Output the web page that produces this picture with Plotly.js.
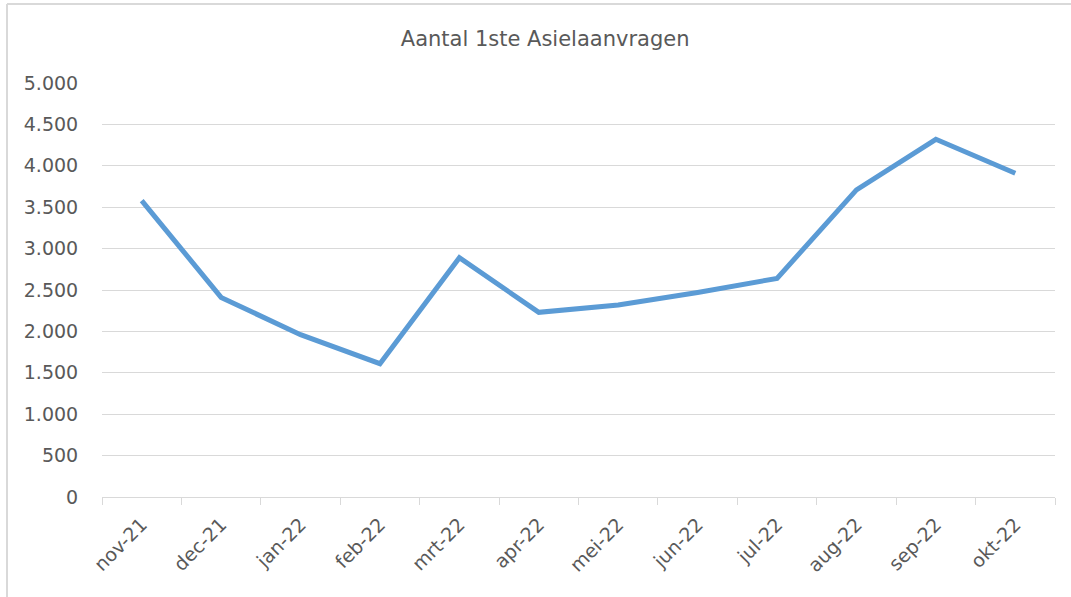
<!DOCTYPE html>
<html>
<head>
<meta charset="utf-8">
<script src="https://cdn.plot.ly/plotly-3.0.1.min.js"></script>
<style>html,body{margin:0;padding:0;background:#fff;}#chart{width:1071px;height:597px;}</style>
</head>
<body>
<div id="chart"></div>
<script>
const months = ["nov-21","dec-21","jan-22","feb-22","mrt-22","apr-22","mei-22","jun-22","jul-22","aug-22","sep-22","okt-22"];
const aanvragen = [3580, 2410, 1960, 1610, 2890, 2230, 2320, 2470, 2640, 3710, 4320, 3910];
const yTicks = [0, 500, 1000, 1500, 2000, 2500, 3000, 3500, 4000, 4500, 5000];
const chartTitle = "Aantal 1ste Asielaanvragen";

const trace = {
  x: months,
  y: aanvragen,
  type: "scatter",
  mode: "lines",
  line: {color: "#5B9BD5", width: 5, shape: "linear"},
  hoverinfo: "x+y"
};

const layout = {
  width: 1071,
  height: 597,
  margin: {l: 102, r: 16, t: 83, b: 100, pad: 0},
  paper_bgcolor: "#ffffff",
  plot_bgcolor: "#ffffff",
  separators: ",.",
  font: {family: "DejaVu Sans, Verdana, sans-serif", color: "#595959", size: 19},
  title: {
    text: chartTitle,
    font: {family: "DejaVu Sans, Verdana, sans-serif", size: 21, color: "#595959"},
    x: 0.509, xref: "container", xanchor: "center",
    y: 0.935, yref: "container", yanchor: "middle"
  },
  showlegend: false,
  xaxis: {
    type: "category",
    range: [-0.5, 11.5],
    tickson: "boundaries",
    showgrid: false,
    showline: true,
    linecolor: "#D9D9D9",
    linewidth: 1,
    ticks: "outside",
    ticklen: 7,
    tickcolor: "#D9D9D9",
    tickwidth: 1,
    tickangle: -45,
    ticklabelstandoff: 8,
    tickfont: {size: 19, color: "#595959"},
    automargin: false,
    zeroline: false
  },
  yaxis: {
    range: [0, 5000],
    tickvals: yTicks,
    tickformat: ",d",
    showgrid: true,
    gridcolor: "#D9D9D9",
    gridwidth: 1,
    zeroline: false,
    showline: false,
    ticks: "outside",
    ticklen: 19,
    tickcolor: "rgba(0,0,0,0)",
    tickfont: {size: 19, color: "#595959"},
    automargin: false
  },
  shapes: [
    {type: "line", xref: "paper", yref: "paper", x0: -0.0997, x1: -0.0997, y0: -0.3, y1: 1.1908,
     line: {color: "#D9D9D9", width: 2}},
    {type: "line", xref: "paper", yref: "paper", x0: -0.0997, x1: 1.2, y0: 1.1908, y1: 1.1908,
     line: {color: "#D9D9D9", width: 2}}
  ]
};

Plotly.newPlot("chart", [trace], layout, {displayModeBar: false, staticPlot: true});
</script>
</body>
</html>
